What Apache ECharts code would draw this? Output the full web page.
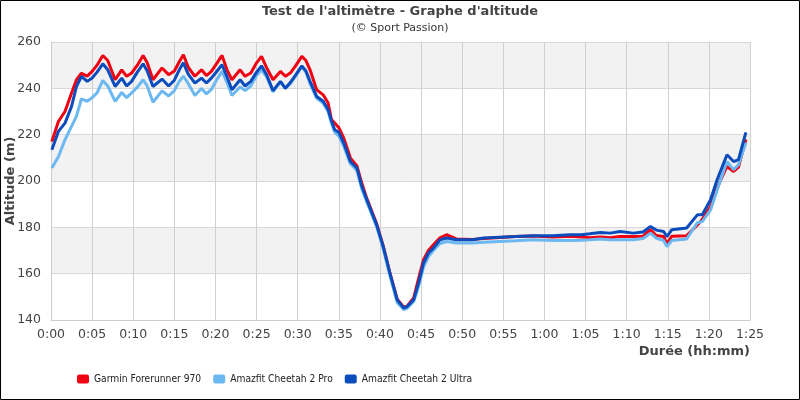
<!DOCTYPE html>
<html><head><meta charset="utf-8">
<script src="https://cdn.jsdelivr.net/npm/echarts@6/dist/echarts.min.js"></script>
<style>html,body{margin:0;padding:0;background:#fff}#c{width:800px;height:400px}</style>
</head><body><div id="c"></div>
<script>
// time in minutes
const times = [0.1,0.9,1.7,2.5,3.1,3.7,4.4,5.0,5.6,6.3,6.9,7.8,8.6,9.2,9.8,10.5,11.2,11.7,12.4,13.5,14.3,15.0,15.6,16.1,16.7,17.5,18.3,18.9,19.5,20.2,20.8,21.4,22.0,23.0,23.6,24.3,25.0,25.6,26.2,27.0,27.9,28.5,29.1,29.8,30.5,31.0,31.5,32.3,33.1,33.7,34.1,34.5,35.0,35.6,36.4,37.2,37.8,38.4,39.6,40.4,41.2,42.1,42.9,43.3,44.1,44.7,45.3,45.9,46.5,47.3,48.1,49.3,51.3,52.6,54.6,56.5,58.7,61.0,63.1,64.5,65.5,66.8,68.0,69.2,70.8,72.0,72.9,73.6,74.5,74.9,75.5,77.3,78.6,79.2,80.2,81.0,82.2,83.0,83.6,84.5];
const garmin = [217,225.7,230,238,243.7,246.5,245.3,247.3,250,254.2,252,243.7,248,245.2,246.6,250,254.2,251,243.7,248.8,245.9,247.5,251.5,254.5,249,245.2,248,245.5,247.3,251,254.2,248,243.7,248,245.2,246.6,251,253.8,249,243.7,247.3,245.2,246.6,250,253.8,252,248,239.4,237.2,233.7,226.5,225,223,218.5,210,206.5,199,192.5,181.5,172,160.5,149,145.5,146,149.5,158,166,170,172.5,175.5,176.8,175,174.8,175.2,175.6,176,176.3,175.8,176.1,175.8,175.5,175.8,175.5,176,176,176.2,179,176.5,176,173,176.2,176.4,181,183.5,189,197,206.3,204.1,206,218];
const cheetahPro = [205.6,210.5,217.8,223.6,228,235.5,234.4,236,238,243.4,241,234.4,238.2,236,238,240.5,243.7,241,234,238.9,236.7,239,243,245.2,242,236.9,239.9,237.6,239.5,244,247.3,242.5,236.9,240.6,239,241,245.5,248,245,238.5,242.8,240,242,245.5,249.4,247,242,235.8,233.5,230,225,221,219.5,215,207.5,204.5,196.5,191,180.2,170.7,159.3,147.5,144.5,145,148,154.5,162.8,167.4,170,173,173.9,173.2,173.2,173.6,173.9,174.2,174.6,174.3,174.3,174.4,174.6,175,174.6,174.6,174.6,175.2,177.5,175.3,174.3,171.7,174.3,175,182,182.5,187.5,196,208.4,204.9,207,216.5];
const cheetahUltra = [213.5,221.4,225,232.2,240.8,245.2,243,244.5,247,250.6,248,240.8,244.4,241,243,247,250.6,247.5,240.8,244,241,243.5,248,251,246,242.3,244.4,242.3,244.4,247.5,250.2,245,239.4,243.7,241,243,247,249.7,246,239,243,240,242.5,246,249.7,247.5,243,236.5,234.4,230.8,226,222.1,221,216.4,208.4,205.6,197.7,191.9,181.1,171.7,160.3,148.7,145.1,145.8,148.7,156,164.6,168.9,171,174.6,175.4,174.6,174.6,175.4,175.7,176,176.4,176.4,176.8,176.8,177.2,177.8,177.5,178.2,177.5,178,180.4,178.8,178.2,176,179,179.7,185.4,185.4,191.9,200.5,211.3,208.4,209.2,221];
const seriesNames = ['Garmin Forerunner 970','Amazfit Cheetah 2 Pro','Amazfit Cheetah 2 Ultra'];
const colors = ['#f00010','#6cb8f0','#0a4cbc'];

function pairs(v){ return times.map((t,i)=>[t,v[i]]); }
function fmt(m){ const h=Math.floor(m/60), mm=Math.round(m%60); return h+':'+(mm<10?'0':'')+mm; }

const FONT = 'DejaVu Sans';
const chart = echarts.init(document.getElementById('c'), null, {renderer:'canvas'});
const mk = (name, data, color, z) => ({
  name, type:'line', data:pairs(data), showSymbol:false, symbol:'none', z,
  lineStyle:{color, width:3}, itemStyle:{color}, animation:false
});
chart.setOption({
  animation:false,
  color: colors,
  title:{text:"Test de l'altimètre - Graphe d'altitude", subtext:'(© Sport Passion)', left:'center', top:0, itemGap:5,
    textStyle:{fontFamily:FONT, fontSize:13, fontWeight:'bold', color:'#444'},
    subtextStyle:{fontFamily:FONT, fontSize:11, color:'#333'}},
  grid:{left:51, right:50, top:42, bottom:80, containLabel:false, outerBoundsMode:'none'},
  legend:{left:72, top:369, itemWidth:12, itemHeight:9, itemGap:12, icon:'roundRect',
    textStyle:{fontFamily:'DejaVu Sans Condensed', fontSize:10.2, color:'#222'}, data:seriesNames},
  xAxis:{type:'value', min:0, max:85, interval:5,
    name:'Durée (hh:mm)', nameLocation:'end', nameGap:0, nameMoveOverlap:false,
    nameTextStyle:{fontFamily:FONT, fontSize:13, fontWeight:'bold', color:'#444', align:'right', verticalAlign:'top', padding:[25,0,0,0]},
    axisLine:{lineStyle:{color:'#ccc'}}, axisTick:{show:false},
    axisLabel:{formatter:fmt, fontFamily:FONT, fontSize:12.5, color:'#444', margin:8},
    splitLine:{show:true, lineStyle:{color:'#d0d0d0'}}},
  yAxis:{type:'value', min:140, max:260, interval:20,
    name:'Altitude (m)', nameLocation:'middle', nameGap:34, nameMoveOverlap:false,
    nameTextStyle:{fontFamily:FONT, fontSize:13, fontWeight:'bold', color:'#444'},
    axisLine:{show:true, lineStyle:{color:'#ccc'}}, axisTick:{show:false},
    axisLabel:{fontFamily:FONT, fontSize:12.5, color:'#444', margin:10},
    splitLine:{show:true, lineStyle:{color:'#d8d8d8'}},
    splitArea:{show:true, areaStyle:{color:['#ffffff','#f2f2f2']}}},
  graphic:[{type:'rect', shape:{x:0.5,y:0.5,width:799,height:399}, style:{fill:'none', stroke:'#000', lineWidth:1}, z:100}],
  series:[
    mk(seriesNames[0], garmin, colors[0], 2),
    mk(seriesNames[1], cheetahPro, colors[1], 3),
    mk(seriesNames[2], cheetahUltra, colors[2], 4)
  ]
});
</script></body></html>
